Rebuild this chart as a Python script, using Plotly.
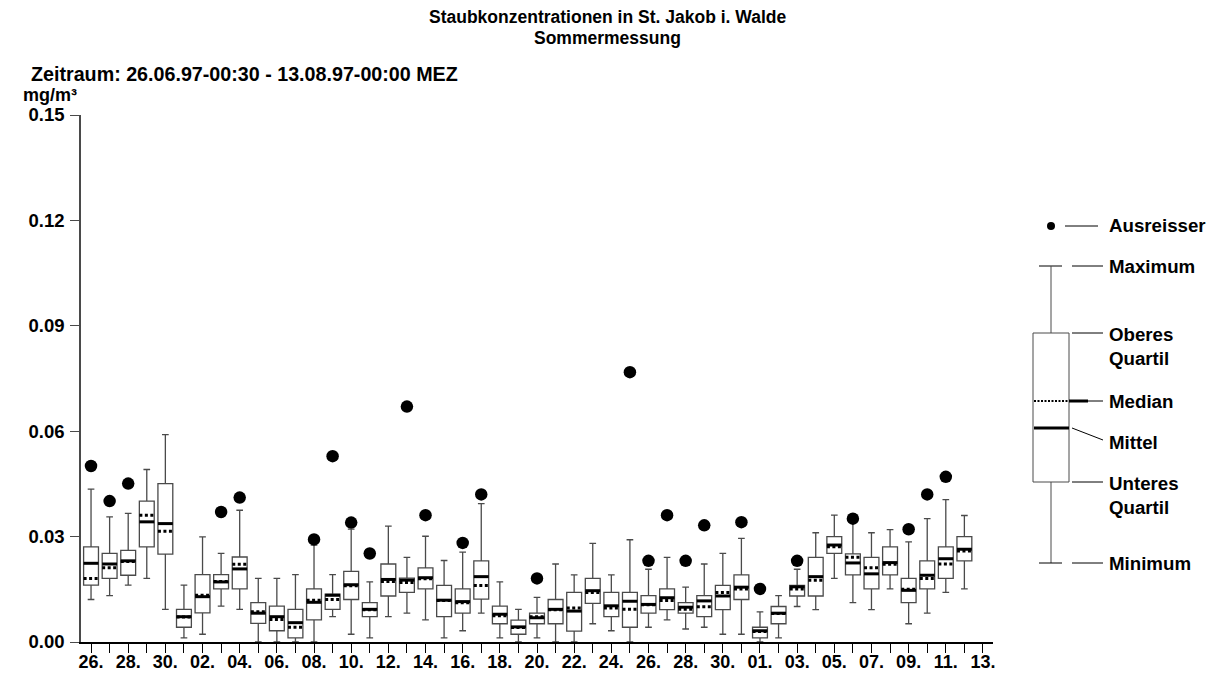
import plotly.graph_objects as go
import pandas as pd

# Tagesstatistik der Staubkonzentration (mg/m³), 26.06.97 - 12.08.97
days = pd.date_range("1997-06-26", "1997-08-13", freq="D")
tick_labels = [d.strftime("%d.") if i % 2 == 0 else "" for i, d in enumerate(days)]

minimum = [0.0121, 0.0132, 0.0162, 0.0181, 0.0093, 0.0012, 0.0022, 0.0102, 0.0093, 0.0000,
           0.0000, 0.0000, 0.0000, 0.0072, 0.0022, 0.0012, 0.0072, 0.0082, 0.0063, 0.0012,
           0.0032, 0.0082, 0.0012, 0.0000, 0.0012, 0.0000, 0.0000, 0.0052, 0.0032, 0.0000,
           0.0042, 0.0063, 0.0037, 0.0042, 0.0022, 0.0022, 0.0000, 0.0012, 0.0101, 0.0092,
           0.0181, 0.0112, 0.0092, 0.0151, 0.0052, 0.0082, 0.0141, 0.0151]
unteres_quartil = [0.0162, 0.0181, 0.0190, 0.0271, 0.0250, 0.0042, 0.0083, 0.0151, 0.0151, 0.0053,
                   0.0032, 0.0012, 0.0063, 0.0093, 0.0121, 0.0072, 0.0131, 0.0141, 0.0151, 0.0072,
                   0.0082, 0.0122, 0.0052, 0.0022, 0.0052, 0.0052, 0.0031, 0.0110, 0.0072, 0.0042,
                   0.0082, 0.0092, 0.0082, 0.0072, 0.0092, 0.0121, 0.0012, 0.0052, 0.0131, 0.0131,
                   0.0252, 0.0191, 0.0151, 0.0191, 0.0112, 0.0151, 0.0181, 0.0231]
mittel = [0.0224, 0.0222, 0.0231, 0.0342, 0.0337, 0.0072, 0.0129, 0.0171, 0.0208, 0.0082,
          0.0072, 0.0055, 0.0113, 0.0133, 0.0163, 0.0093, 0.0178, 0.0176, 0.0183, 0.0119,
          0.0115, 0.0186, 0.0079, 0.0043, 0.0069, 0.0093, 0.0088, 0.0146, 0.0103, 0.0116,
          0.0107, 0.0126, 0.0099, 0.0117, 0.0131, 0.0156, 0.0032, 0.0082, 0.0157, 0.0186,
          0.0276, 0.0225, 0.0194, 0.0226, 0.0147, 0.0190, 0.0237, 0.0264]
median = [0.0181, 0.0211, 0.0229, 0.0361, 0.0315, 0.0071, 0.0133, 0.0172, 0.0221, 0.0086,
          0.0064, 0.0042, 0.0119, 0.0121, 0.0160, 0.0092, 0.0172, 0.0169, 0.0180, 0.0118,
          0.0112, 0.0161, 0.0075, 0.0041, 0.0072, 0.0092, 0.0097, 0.0141, 0.0097, 0.0093,
          0.0106, 0.0118, 0.0093, 0.0100, 0.0141, 0.0151, 0.0030, 0.0081, 0.0151, 0.0176,
          0.0271, 0.0241, 0.0211, 0.0221, 0.0150, 0.0181, 0.0222, 0.0259]
oberes_quartil = [0.0271, 0.0252, 0.0261, 0.0401, 0.0451, 0.0093, 0.0192, 0.0192, 0.0242, 0.0112,
                  0.0102, 0.0093, 0.0151, 0.0136, 0.0201, 0.0112, 0.0222, 0.0182, 0.0211, 0.0161,
                  0.0151, 0.0231, 0.0102, 0.0062, 0.0082, 0.0121, 0.0141, 0.0181, 0.0141, 0.0141,
                  0.0132, 0.0151, 0.0112, 0.0132, 0.0161, 0.0191, 0.0042, 0.0101, 0.0161, 0.0241,
                  0.0300, 0.0251, 0.0241, 0.0271, 0.0181, 0.0231, 0.0271, 0.0300]
maximum = [0.0435, 0.0356, 0.0366, 0.0491, 0.0590, 0.0162, 0.0299, 0.0252, 0.0375, 0.0181,
           0.0181, 0.0192, 0.0276, 0.0192, 0.0321, 0.0171, 0.0330, 0.0241, 0.0301, 0.0232,
           0.0256, 0.0394, 0.0171, 0.0093, 0.0127, 0.0222, 0.0191, 0.0281, 0.0191, 0.0291,
           0.0207, 0.0241, 0.0156, 0.0222, 0.0252, 0.0295, 0.0086, 0.0132, 0.0207, 0.0311,
           0.0361, 0.0345, 0.0311, 0.0320, 0.0285, 0.0351, 0.0405, 0.0360]
ausreisser = [0.0501, 0.0401, 0.0451, None, None, None, None, 0.0370, 0.0411, None,
              None, None, 0.0292, 0.0529, 0.0340, 0.0252, None, 0.0670, 0.0361, None,
              0.0282, 0.0420, None, None, 0.0181, None, None, None, None, 0.0768,
              0.0231, 0.0361, 0.0231, 0.0332, None, 0.0341, 0.0151, None, 0.0231, None,
              None, 0.0351, None, None, 0.0321, 0.0420, 0.0470, None]

y_ticks = [0.00, 0.03, 0.06, 0.09, 0.12, 0.15]

FONT = "Liberation Sans, Arial, sans-serif"
BOX_W = 0.8
GREY = "#4a4a4a"

# plot area in page pixels (used for the key and the free-standing labels)
L, R, T, B = 81, 993, 115, 642
W, H = 1214, 679


def px(x):
    return (x - L) / (R - L)


def py(y):
    return (B - y) / (B - T)


pos = list(range(len(mittel)))

fig = go.Figure()

# boxes and whiskers; the box centre line lies under the thick Mittel line
fig.add_trace(go.Box(
    x=pos, q1=unteres_quartil, median=mittel, q3=oberes_quartil,
    lowerfence=minimum, upperfence=maximum,
    width=BOX_W, whiskerwidth=0.45, boxpoints=False,
    fillcolor="white", line=dict(color=GREY, width=1.3),
    hoverinfo="skip", showlegend=False,
))


def segments(values):
    xs, ys = [], []
    for i, v in zip(pos, values):
        xs += [i - BOX_W / 2, i + BOX_W / 2, None]
        ys += [v, v, None]
    return xs, ys


mx, my = segments(mittel)
fig.add_trace(go.Scatter(x=mx, y=my, mode="lines", line=dict(color="black", width=3),
                         hoverinfo="skip", showlegend=False))
dx, dy = segments(median)
fig.add_trace(go.Scatter(x=dx, y=dy, mode="lines",
                         line=dict(color="black", width=3, dash="3px,2.5px"),
                         hoverinfo="skip", showlegend=False))

ox = [i for i, v in zip(pos, ausreisser) if v is not None]
oy = [v for v in ausreisser if v is not None]
fig.add_trace(go.Scatter(x=ox, y=oy, mode="markers",
                         marker=dict(color="black", size=12.5, line=dict(width=0)),
                         hoverinfo="skip", showlegend=False))

# ---- key on the right ----
shapes = []


def seg(x0, y0, x1, y1, width=1, color="black", dash="solid"):
    shapes.append(dict(type="line", xref="paper", yref="paper",
                       x0=px(x0), y0=py(y0), x1=px(x1), y1=py(y1),
                       line=dict(color=color, width=width, dash=dash)))


KX0, KX1, KC = 1033, 1069, 1051
LX0, LX1 = 1072, 1103
y_out, y_max, y_oq, y_med, y_mit, y_uq, y_min = 226, 266, 333, 401, 428, 482, 563

shapes.append(dict(type="circle", xref="paper", yref="paper",
                   xsizemode="pixel", ysizemode="pixel",
                   xanchor=px(KC), yanchor=py(y_out), x0=-4, x1=4, y0=-4, y1=4,
                   fillcolor="black", line=dict(width=0)))
seg(1065, y_out, 1098, y_out)
seg(1039, y_max, 1062, y_max)
seg(LX0, y_max, LX1, y_max)
seg(KC, y_max, KC, y_oq, color=GREY)
shapes.append(dict(type="rect", xref="paper", yref="paper",
                   x0=px(KX0), x1=px(KX1), y0=py(y_uq), y1=py(y_oq),
                   fillcolor="white", line=dict(color=GREY, width=1)))
seg(LX0, y_oq, LX1, y_oq)
seg(KX0 + 1, y_med, KX1, y_med, width=2, dash="2px,1.5px")
seg(KX1, y_med, 1088, y_med, width=3)
seg(1088, y_med, LX1, y_med)
seg(KX0 + 1, y_mit, KX1, y_mit, width=3)
seg(LX0, y_mit, LX1, 440)
seg(LX0, y_uq, LX1, y_uq)
seg(KC, y_uq, KC, y_min, color=GREY)
seg(1039, y_min, 1062, y_min)
seg(LX0, y_min, LX1, y_min)

annotations = []


def label(text, x, y, size=18.7, anchor="left"):
    annotations.append(dict(text=text, xref="paper", yref="paper",
                            x=px(x), y=py(y), xanchor=anchor, yanchor="middle",
                            align=anchor, showarrow=False, borderpad=0,
                            font=dict(family=FONT, size=size, color="black", weight="bold")))


label("Ausreisser", 1108, y_out)
label("Maximum", 1108, y_max)
label("Oberes<br>Quartil", 1108, 346)
label("Median", 1108, y_med)
label("Mittel", 1108, 442)
label("Unteres<br>Quartil", 1108, 495)
label("Minimum", 1108, y_min)

label("Staubkonzentrationen in St. Jakob i. Walde", W / 2, 17, size=17.5, anchor="center")
label("Sommermessung", W / 2, 38, size=17.5, anchor="center")
label("Zeitraum: 26.06.97-00:30 - 13.08.97-00:00 MEZ", 30, 74, size=19.7)
label("mg/m³", 22, 95, size=18)

fig.update_layout(
    width=W, height=H,
    margin=dict(l=L, r=W - R, t=T, b=H - B),
    paper_bgcolor="white", plot_bgcolor="white",
    shapes=shapes, annotations=annotations,
    font=dict(family=FONT, size=18, color="black", weight="bold"),
    xaxis=dict(
        range=[-0.54, len(days) - 1 + 0.54], automargin=False,
        tickvals=list(range(len(days))), ticktext=tick_labels,
        ticks="outside", ticklen=9, tickwidth=1.2, tickcolor="black",
        ticklabelstandoff=-6,
        showline=True, linecolor="black", linewidth=1.5,
        showgrid=False, zeroline=False,
        tickfont=dict(family=FONT, size=18, color="black", weight="bold"),
    ),
    yaxis=dict(
        range=[0, 0.15], tickvals=y_ticks, tickformat=".2f", automargin=False,
        ticks="outside", ticklen=9, tickwidth=1.2, tickcolor=GREY,
        ticklabelstandoff=2,
        showline=True, linecolor=GREY, linewidth=1.5,
        showgrid=False, zeroline=False,
        tickfont=dict(family=FONT, size=18.5, color="black", weight="bold"),
    ),
)

fig.write_html("out.html")
